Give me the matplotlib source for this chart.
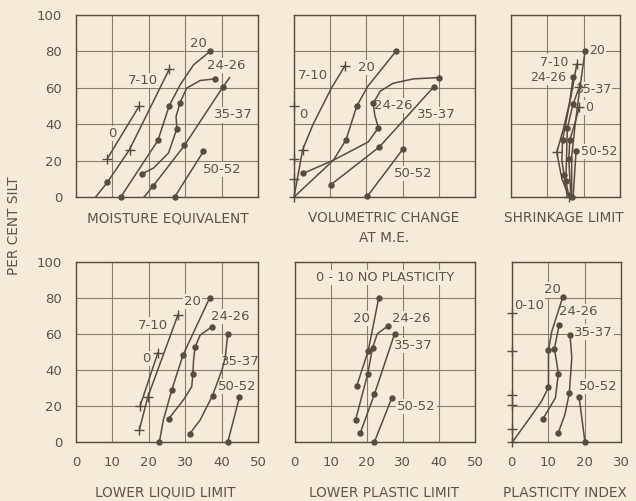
import matplotlib.pyplot as plt

BG = "#f4ecd8"
INK = "#5a4b3d"
GRID = "#8a7b6b"
TXT = "#5e5248"

# curve points: label -> (x values, y values)
# marks: one code per point, "o" dot, "+" cross, "." no marker
MOISTURE = {
    "0": ([8.6, 17.4], [21, 50]),
    "7-10": ([5.4, 8.6, 14.7, 25.6], [0, 8, 26, 70]),
    "20": ([12.3, 22.5, 25.6, 28.6, 32.3, 36.9], [0, 31, 50, 61.5, 72.5, 80]),
    "24-26": ([18.1, 21.3, 25.4, 27.7, 27.5, 28.6, 30.4, 34.1, 38.2],
              [12.6, 15.9, 24.1, 37.4, 44.2, 51.8, 59.7, 63.9, 64.8]),
    "35-37": ([18.7, 21.1, 29.8, 40.3, 42.2], [0, 5.8, 28.3, 60.2, 65.5]),
    "50-52": ([27.1, 35.0], [0, 25]),
}
MOISTURE_MARKS = {"0": "++", "7-10": ".o++", "20": "ooo..o",
                  "24-26": "o..o.o..o", "35-37": ".ooo.", "50-52": "oo"}

VOLUMETRIC = {
    "0": ([0, 0, 0, 0], [0, 10, 21, 50]),
    "7-10": ([0.1, 2.4, 5.3, 10.4, 14.1], [1, 26, 40, 60, 72]),
    "20": ([0, 10.9, 14.4, 17.3, 20.3, 28.2], [0, 20.2, 31.5, 49.7, 60.5, 80]),
    "24-26": ([2.6, 10.9, 20.5, 23.3, 22.3, 21.9, 23.8, 27.4, 33.0, 40.1],
              [13, 20.2, 30.2, 37.9, 45, 51.5, 58, 62.4, 64.8, 65.5]),
    "35-37": ([10.1, 23.6, 38.7], [6.6, 27.5, 60.6]),
    "50-52": ([20.3, 30.2], [0.5, 26.6]),
}
VOLUMETRIC_MARKS = {"0": "++++", "7-10": ".+..+", "20": "..oo.o",
                    "24-26": "o..o.o...o", "35-37": "ooo", "50-52": "oo"}

SHRINKAGE = {
    "20": ([20.4, 19.4, 18.5, 17.6, 16.7, 16.7], [80.3, 66, 53, 38.7, 22, 0]),
    "7-10": ([18.1, 16.5, 14.5, 12.6, 14.0, 16.0], [72.8, 55, 38, 24.5, 10, 0]),
    "24-26": ([17.1, 16.0, 14.2, 14.0, 14.6, 15.5], [65.7, 50, 31.4, 20, 12.2, 0]),
    "35-37": ([18.8, 17.1, 15.5, 15.1, 16.0], [60.2, 51.1, 37.8, 8.6, 0]),
    "0": ([18.8, 17.5, 16.2, 15.9, 16.5], [49.3, 40, 31.4, 20.8, 0]),
    "50-52": ([17.9, 17.1], [25, 0]),
}
SHRINKAGE_MARKS = {"20": "o....o", "7-10": "+..+.+", "24-26": "o.o.o.",
                   "35-37": "+ooo.", "0": "+.oo.", "50-52": "o."}

LIQUID = {
    "0": ([17.6, 22.5], [20, 49.7]),
    "7-10": ([17.4, 19.7, 28.0], [6.7, 24.9, 70.7]),
    "20": ([22.9, 24.0, 26.3, 29.4, 36.7], [0, 12.2, 28.9, 48.4, 80.1]),
    "24-26": ([25.5, 29.5, 31.8, 32.1, 32.3, 32.7, 34.1, 37.4],
              [13, 23.4, 30.8, 37.7, 45.6, 52.7, 59.5, 64.2]),
    "35-37": ([31.2, 34.1, 37.5, 40.1, 41.0, 41.7], [4.5, 12.2, 25.8, 40.1, 47, 60.3]),
    "50-52": ([41.7, 44.9], [0, 24.9]),
}
LIQUID_MARKS = {"0": "++", "7-10": "+++", "20": "o.ooo",
                "24-26": "o..o.o.o", "35-37": "o.o..o", "50-52": "oo"}

PLASTIC = {
    "20": ([17.2, 20.4, 23.3], [31.1, 50.9, 80.2]),
    "24-26": ([16.9, 20.2, 21.6, 22.9, 26.0], [12.4, 37.6, 52.4, 60.2, 64.8]),
    "35-37": ([18.2, 22.1, 27.7], [5.2, 26.5, 60.2]),
    "50-52": ([22.1, 26.9], [0, 24.4]),
}
PLASTIC_MARKS = {"20": "ooo", "24-26": "ooo.o", "35-37": "ooo", "50-52": "oo"}

INDEX = {
    "0-10": ([0, 0, 0, 0, 0, 0], [0, 7.4, 20.5, 26.4, 50.4, 71.7]),
    "20": ([0.2, 5.0, 8.2, 10.1, 10.1, 11.0, 14.0], [0, 13.5, 22.7, 30.5, 51, 61.5, 80.6]),
    "24-26": ([8.5, 12.0, 12.8, 12.3, 11.7, 13.0], [12.6, 24.6, 37.9, 45, 51.9, 64.9]),
    "35-37": ([12.8, 14.6, 15.8, 16.5, 16.0], [5.2, 15.3, 27, 46.8, 59.7]),
    "50-52": ([18.5, 20.1], [25, 0]),
}
INDEX_MARKS = {"0-10": "++++++", "20": "...oo.o", "24-26": "o.o.oo",
               "35-37": "o.o.o", "50-52": "oo"}

# where each curve's label sits (data coords)
MOISTURE_LABELS = {"0": (10, 35), "7-10": (18.3, 64), "20": (33.7, 84.3),
                   "24-26": (41.3, 72), "35-37": (43.3, 45), "50-52": (40.3, 15)}
VOLUMETRIC_LABELS = {"0": (2.6, 45), "7-10": (5.3, 66.4), "20": (20.1, 71),
                     "24-26": (27.4, 50), "35-37": (39.4, 45), "50-52": (33, 12.8)}
SHRINKAGE_LABELS = {"20": (23.6, 80.3), "7-10": (11.9, 74), "24-26": (10.2, 65.7),
                    "35-37": (22.6, 59.1), "0": (21.4, 49.3), "50-52": (24.2, 25)}
LIQUID_LABELS = {"0": (19.4, 46.6), "7-10": (21.1, 65.1), "20": (32.1, 78.1),
                 "24-26": (42.4, 69.7), "35-37": (45.1, 44.7), "50-52": (44.2, 30.8)}
PLASTIC_LABELS = {"20": (18.6, 68.5), "24-26": (32.4, 68.5), "35-37": (32.9, 53.7),
                  "50-52": (33.8, 20)}
INDEX_LABELS = {"0-10": (4.8, 75.9), "20": (11.3, 84.6), "24-26": (18.3, 72.6),
                "35-37": (22.4, 61.2), "50-52": (23.8, 31)}

W, H = 636, 501


def add_panel(fig, left, right, top, bottom, xmax, bottom_row, left_col):
    ax = fig.add_axes([left / W, 1 - bottom / H, (right - left) / W, (bottom - top) / H])
    ax.set_facecolor(BG)
    ax.set_xlim(0, xmax)
    ax.set_ylim(0, 100)
    ax.set_xticks(range(0, xmax + 1, 10))
    ax.set_yticks(range(0, 101, 20))
    ax.set_axisbelow(True)
    ax.grid(color=GRID, lw=0.8)
    ax.tick_params(length=0, labelsize=9.5, labelcolor=TXT, pad=10,
                   labelbottom=bottom_row, labelleft=left_col)
    for s in ax.spines.values():
        s.set_color(INK)
        s.set_linewidth(1.0)
    return ax


def draw_curves(ax, curves, marks, labels, fs=9.5):
    for name, (xs, ys) in curves.items():
        if not all(x == 0 for x in xs):
            ax.plot(xs, ys, color=INK, lw=1.1, zorder=3, clip_on=False)
        for x, y, m in zip(xs, ys, marks[name]):
            if m == "o":
                ax.plot(x, y, "o", color=INK, ms=3.6, zorder=4, clip_on=False)
            elif m == "+":
                ax.plot(x, y, "+", color=INK, ms=6.5, mew=1.0, zorder=4, clip_on=False)
    for name, (lx, ly) in labels.items():
        ax.text(lx, ly, name, ha="center", va="center", fontsize=fs, color=TXT,
                zorder=2, bbox=dict(facecolor=BG, edgecolor="none", pad=0.8))


fig = plt.figure(figsize=(W / 100, H / 100), dpi=100)
fig.patch.set_facecolor(BG)

ax1 = add_panel(fig, 76, 258, 14.7, 197, 50, False, True)
draw_curves(ax1, MOISTURE, MOISTURE_MARKS, MOISTURE_LABELS)
ax2 = add_panel(fig, 294, 475, 14.7, 197, 50, False, False)
draw_curves(ax2, VOLUMETRIC, VOLUMETRIC_MARKS, VOLUMETRIC_LABELS)
ax3 = add_panel(fig, 511, 620, 14.7, 197, 30, False, False)
draw_curves(ax3, SHRINKAGE, SHRINKAGE_MARKS, SHRINKAGE_LABELS, fs=9)
ax4 = add_panel(fig, 76, 258, 262.3, 442, 50, True, True)
draw_curves(ax4, LIQUID, LIQUID_MARKS, LIQUID_LABELS)
ax5 = add_panel(fig, 294.7, 475, 262.3, 442, 50, True, False)
draw_curves(ax5, PLASTIC, PLASTIC_MARKS, PLASTIC_LABELS)
ax5.text(25, 91.5, "0 - 10 NO PLASTICITY", ha="center", va="center", fontsize=9.3,
         color=TXT, zorder=2, bbox=dict(facecolor=BG, edgecolor="none", pad=0.8))
ax6 = add_panel(fig, 511.7, 621, 262.3, 442, 30, True, False)
draw_curves(ax6, INDEX, INDEX_MARKS, INDEX_LABELS)

titles = [("MOISTURE EQUIVALENT", 168, 219), ("VOLUMETRIC CHANGE", 384, 218),
          ("AT M.E.", 384, 238), ("SHRINKAGE LIMIT", 564, 218),
          ("LOWER LIQUID LIMIT", 165, 493), ("LOWER PLASTIC LIMIT", 384, 493),
          ("PLASTICITY INDEX", 565, 493)]
for t, x, y in titles:
    fig.text(x / W, 1 - y / H, t, ha="center", va="center", fontsize=9.8, color=TXT)
fig.text(14 / W, 1 - 226 / H, "PER CENT SILT", rotation=90, ha="center", va="center",
         fontsize=9.8, color=TXT)

fig.savefig("out.png", dpi=100, facecolor=BG)
